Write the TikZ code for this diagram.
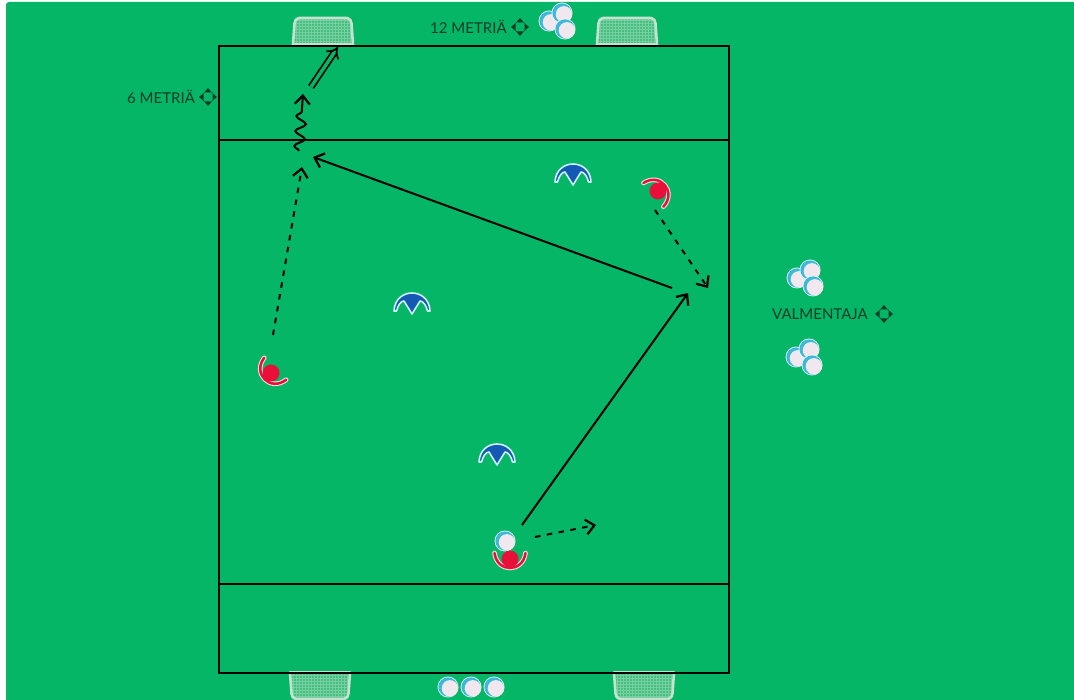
\documentclass[tikz,border=0pt]{standalone}
\usepackage{fontspec}
\setmainfont{Lato}
\usepackage{xcolor}
\usetikzlibrary{arrows.meta,decorations.pathmorphing}
\definecolor{pitch}{RGB}{4,182,101}
\definecolor{inkdark}{RGB}{8,60,40}
\definecolor{netline}{RGB}{196,226,206}
\definecolor{netfill}{RGB}{70,190,125}
\definecolor{ballrim}{RGB}{60,185,215}
\definecolor{ballbody}{RGB}{240,232,238}
\definecolor{redply}{RGB}{232,16,56}
\definecolor{blueply}{RGB}{20,90,180}
\tikzset{
  lineblack/.style={line width=2.1pt, draw=black},
  runline/.style={line width=2pt, draw=black, -{Straight Barb[length=8.5pt,width=15pt,line width=2.2pt]}},
  dashrun/.style={runline, dash pattern=on 5.5pt off 6.5pt},
  lab/.style={font=\fontsize{15}{17}\selectfont, text=inkdark, inner sep=0pt, anchor=west},
  goalpic/.pic={
    \fill[netfill] (-30,0) -- (-28.5,-21) to[out=85,in=180] (-24,-26.5) -- (24,-26.5) to[out=0,in=95] (28.5,-21) -- (30,0) -- cycle;
    \foreach \xx in {-27,-24,...,27} \draw[netline!60!pitch, line width=0.4pt] (\xx,-1) -- (\xx,-25);
    \foreach \yy in {-3,-6,...,-24} \draw[netline!60!pitch, line width=0.4pt] (-28,\yy) -- (28,\yy);
    \draw[netline, line width=2.6pt, line join=round] (-30,0) -- (-28.5,-21) to[out=85,in=180] (-24,-26.5) -- (24,-26.5) to[out=0,in=95] (28.5,-21) -- (30,0) -- cycle;
  },
  ballpic/.pic={
    \fill[white!85!ballrim] (0,0) circle (10.5);
    \fill[ballrim] (0,0) circle (9.6);
    \fill[ballbody] (1.9,1.3) circle (8.2);
  },
  ballgroup/.pic={
    \pic at (0,0) {ballpic};
    \pic at (13,-8) {ballpic};
    \pic at (16,8) {ballpic};
  },
  redplayer/.pic={
    \draw[white!85!redply, line width=4.6pt, line cap=round] (-15.5,-6) .. controls (-13,14) and (13,14) .. (15.5,-6);
    \draw[redply, line width=2.5pt, line cap=round] (-15.5,-6) .. controls (-13,14) and (13,14) .. (15.5,-6);
    \fill[redply] (0,0) circle (8.5);
  },
  blueplayer/.pic={
    \draw[white!75!ballrim, line width=1.6pt, fill=blueply, line join=round] (-18,7) .. controls (-17,-17) and (17,-17) .. (18,7) -- (15.5,7) .. controls (14,1) and (11,-3) .. (8,-3) -- (0,10) -- (-8,-3) .. controls (-11,-3) and (-14,1) .. (-15.5,7) -- cycle;
  },
  moveicon/.pic={
    \foreach \aa in {0,90,180,270} {
      \fill[inkdark, rotate=\aa] (9,0) -- (4.5,-3.8) -- (4.5,3.8) -- cycle;
      \draw[inkdark, line width=0.7pt, rotate=\aa] (4.5,-3.5) -- (3.5,-4.5);
    }
  }
}
\begin{document}
\begin{tikzpicture}[x=1pt,y=-1pt]
  \useasboundingbox (0,0) rectangle (1074,700);
  \fill[white] (0,0) rectangle (1074,700);
  \fill[pitch, rounded corners=3pt] (6,2) rectangle (1080,710);
  % goals
  \pic at (323,44.5) {goalpic};
  \pic at (627,44.5) {goalpic};
  \pic[yscale=-1] at (320,672.5) {goalpic};
  \pic[yscale=-1] at (644,672.5) {goalpic};
  % field
  \coordinate (ftl) at (219,46);
  \coordinate (fbr) at (729,673);
  \coordinate (ml) at (219,140);
  \coordinate (mr) at (729,140);
  \coordinate (nl) at (219,584);
  \coordinate (nr) at (729,584);
  \draw[lineblack] (ftl) rectangle (fbr);
  \draw[lineblack] (ml) -- (mr);
  \draw[lineblack] (nl) -- (nr);
  % labels
  \node[lab] (six) at (127,97) {6 METRIÄ};
  \node[lab] (twelve) at (430,27) {12 METRIÄ};
  \node[lab] (coach) at (772,314) {VALMENTAJA};
  \pic at (208,97) {moveicon};
  \pic at (520,27) {moveicon};
  \pic at (884,314) {moveicon};
  % balls
  \pic at (549,21) {ballgroup};
  \pic at (797,278) {ballgroup};
  \pic at (796,357) {ballgroup};
  \pic at (448,687) {ballpic};
  \pic at (471,687) {ballpic};
  \pic at (494,687) {ballpic};
  \pic at (505,541) {ballpic};
  % players
  \pic at (573,175) {blueplayer};
  \pic at (412,304) {blueplayer};
  \pic at (497,455) {blueplayer};
  \pic[rotate=-45] at (271,373) {redplayer};
  \pic[rotate=130] at (658,191) {redplayer};
  \pic at (510,559) {redplayer};
  % runs and passes
  \coordinate (a1) at (273,335);
  \coordinate (a2) at (302,167);
  \coordinate (b1) at (672,288);
  \coordinate (b2) at (313,157);
  \coordinate (c1) at (522,525);
  \coordinate (c2) at (688,293);
  \coordinate (d1) at (655,210);
  \coordinate (d2) at (708,288);
  \coordinate (e1) at (535,537);
  \coordinate (e2) at (596,525);
  \coordinate (w1) at (299,151);
  \coordinate (w2) at (303,94);
  \coordinate (s1) at (311,87);
  \coordinate (s2) at (338,47);
  \draw[dashrun] (a1) -- (a2);
  \draw[runline] (b1) -- (b2);
  \draw[runline] (c1) -- (c2);
  \draw[dashrun] (d1) -- (d2);
  \draw[dashrun] (e1) -- (e2);
  \draw[runline, decorate, decoration={snake, amplitude=5pt, segment length=15pt, post=lineto, post length=12pt}] (w1) -- (w2);
  \draw[line width=1.7pt, double=pitch, double distance=3.5pt, -{Implies}] (s1) -- (s2);
\end{tikzpicture}
\end{document}
